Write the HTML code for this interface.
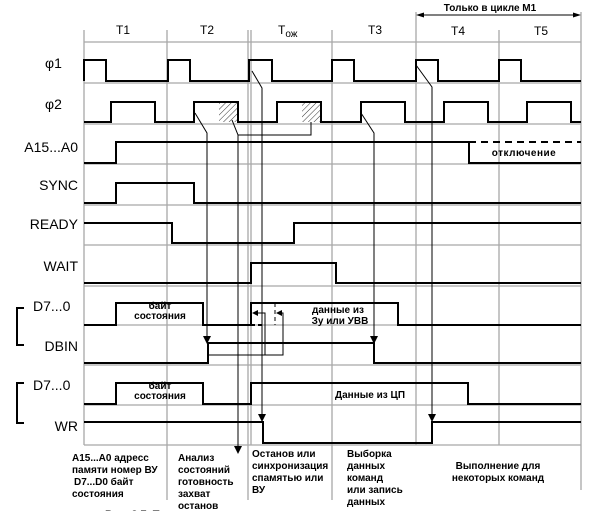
<!DOCTYPE html>
<html><head><meta charset="utf-8"><style>
html,body{margin:0;padding:0;background:#fff;}
svg{display:block;}
text{font-family:"Liberation Sans","DejaVu Sans",sans-serif;fill:#000;}
.g{stroke:#a8a8a8;stroke-width:1.3;fill:none;}
.s{stroke:#000;stroke-width:2;fill:none;}
.t{stroke:#000;stroke-width:1;fill:none;}
.lab{font-size:14px;}
.b{font-size:10px;font-weight:bold;}
.h{font-size:12px;}
</style></head><body>
<svg width="600" height="511" viewBox="0 0 600 511" xmlns="http://www.w3.org/2000/svg">
<defs>
<pattern id="hat" width="4" height="4" patternUnits="userSpaceOnUse" patternTransform="rotate(45)">
<line x1="0" y1="0" x2="0" y2="4" stroke="#000" stroke-width="0.8"/>
</pattern>
</defs>
<g class="g">
<line x1="84" y1="42" x2="581" y2="42"/>
<line x1="84" y1="83" x2="581" y2="83"/>
<line x1="84" y1="124" x2="581" y2="124"/>
<line x1="84" y1="164" x2="581" y2="164"/>
<line x1="84" y1="205" x2="581" y2="205"/>
<line x1="84" y1="245" x2="581" y2="245"/>
<line x1="84" y1="286" x2="581" y2="286"/>
<line x1="84" y1="325" x2="581" y2="325"/>
<line x1="84" y1="365" x2="581" y2="365"/>
<line x1="84" y1="405" x2="581" y2="405"/>
<line x1="84" y1="445" x2="581" y2="445"/>
<line x1="84" y1="30" x2="84" y2="445"/>
<line x1="167" y1="30" x2="167" y2="500"/>
<line x1="248" y1="30" x2="248" y2="500"/>
<line x1="251" y1="30" x2="251" y2="445"/>
<line x1="332" y1="30" x2="332" y2="500"/>
<line x1="416" y1="12" x2="416" y2="445"/>
<line x1="499" y1="30" x2="499" y2="445"/>
<line x1="581" y1="12" x2="581" y2="490"/>
</g>
<text x="490" y="11" class="b" text-anchor="middle">Только в цикле М1</text>
<line x1="420" y1="15" x2="577" y2="15" class="t"/>
<polygon points="416,15 424,12.5 424,17.5"/>
<polygon points="581,15 573,12.5 573,17.5"/>
<text x="123" y="34" class="h" text-anchor="middle">T1</text>
<text x="207" y="34" class="h" text-anchor="middle">T2</text>
<text x="278" y="34" class="h">T<tspan font-size="10" dy="3">ож</tspan></text>
<text x="375" y="34" class="h" text-anchor="middle">T3</text>
<text x="458" y="35" class="h" text-anchor="middle">T4</text>
<text x="541" y="35" class="h" text-anchor="middle">T5</text>
<text x="45" y="68" class="lab" font-size="16">φ1</text>
<text x="45" y="109" class="lab" font-size="16">φ2</text>
<text x="78" y="152" class="lab" text-anchor="end">A15...A0</text>
<text x="78" y="190" class="lab" text-anchor="end">SYNC</text>
<text x="78" y="229" class="lab" text-anchor="end">READY</text>
<text x="78" y="271" class="lab" text-anchor="end">WAIT</text>
<text x="33" y="311" class="lab">D7...0</text>
<text x="78" y="351" class="lab" text-anchor="end">DBIN</text>
<text x="33" y="390" class="lab">D7...0</text>
<text x="78" y="431" class="lab" text-anchor="end">WR</text>
<polyline points="24,308 17,308 17,345 24,345" class="s" stroke-width="1.5"/>
<polyline points="24,383 17,383 17,423 24,423" class="s" stroke-width="1.5"/>
<rect x="219" y="102" width="19" height="20" fill="url(#hat)"/>
<rect x="302" y="102" width="19" height="20" fill="url(#hat)"/>
<polyline class="s" points="84,81 84,60 106,60 106,81 168,81 168,60 190,60 190,81 249,81 249,60 272,60 272,81 332,81 332,60 354,60 354,81 416,81 416,60 438,60 438,81 499,81 499,60 521,60 521,81 581,81"/>
<polyline class="s" points="84,122 111,122 111,102 155,102 155,122 194,122 194,102 238,102 238,122 277,122 277,102 321,102 321,122 361,122 361,102 405,102 405,122 444,122 444,102 488,102 488,122 527,122 527,102 571,102 571,122 581,122"/>
<polyline class="s" points="84,163 116,163 116,142 469,142 469,163 581,163"/>
<line x1="469" y1="142" x2="581" y2="142" class="s" stroke-dasharray="7,5"/>
<text x="524" y="156" class="b" font-size="11" text-anchor="middle" letter-spacing="0.5">отключение</text>
<polyline class="s" points="84,203 116,203 116,183 194,183 194,203 581,203"/>
<polyline class="s" points="84,223 172,223 172,243 294,243 294,223 581,223"/>
<polyline class="s" points="84,283 251,283 251,263 336,263 336,283 581,283"/>
<polyline class="s" points="84,325 116,325 116,303 203,303 203,325 251,325"/>
<polyline class="s" points="251,325 251,303 398,303 398,325 581,325"/>
<line x1="251" y1="325" x2="262" y2="325" class="s" stroke-dasharray="4,3"/>
<line x1="275" y1="303" x2="275" y2="325" class="t" stroke-width="1.5" stroke-dasharray="4,3"/>
<text x="160" y="309" class="b" text-anchor="middle">байт</text>
<text x="160" y="319" class="b" text-anchor="middle">состояния</text>
<text x="338" y="313" class="b" text-anchor="middle">данные из</text>
<text x="340" y="324" class="b" text-anchor="middle">Зу или УВВ</text>
<polyline class="s" points="84,363 208,363 208,343 374,343 374,363 581,363"/>
<polyline class="s" points="84,404 116,404 116,383 203,383 203,404 251,404 251,383 468,383 468,404 581,404"/>
<text x="160" y="389" class="b" text-anchor="middle">байт</text>
<text x="160" y="399" class="b" text-anchor="middle">состояния</text>
<text x="370" y="398" class="b" text-anchor="middle">Данные из ЦП</text>
<polyline class="s" points="84,422 263,422 263,443 432,443 432,422 581,422"/>
<g class="t">
<polyline points="195,113 207,133 207,338"/>
<polyline points="232,120 238,135 238,448"/>
<polyline points="238,135 311,135 311,122"/>
<polyline points="252,71 262,88 262,416"/>
<polyline points="361,113 374,133 374,338"/>
<polyline points="416,65 432,87 432,416"/>
<polyline points="208,355 283,355 283,313 277,313"/>
<polyline points="265,355 265,313 254,313"/>
</g>
<polygon points="207,344 203,336 211,336"/>
<polygon points="374,344 370,336 378,336"/>
<polygon points="238,454 234,446 242,446"/>
<polygon points="262,422 258,414 266,414"/>
<polygon points="432,422 428,414 436,414"/>
<polygon points="252,313 258,310 258,316"/>
<polygon points="276,313 282,310 282,316"/>
<g class="b">
<text x="72" y="461">A15...A0 адресс</text>
<text x="72" y="473">памяти номер ВУ</text>
<text x="74" y="485"> D7...D0 байт</text>
<text x="72" y="497">состояния</text>
<text x="178" y="461">Анализ</text>
<text x="178" y="473">состояний</text>
<text x="178" y="485">готовность</text>
<text x="178" y="497">захват</text>
<text x="178" y="509">останов</text>
<text x="252" y="457">Останов или</text>
<text x="252" y="469">синхронизация</text>
<text x="252" y="481">спамятью или</text>
<text x="252" y="493">ВУ</text>
<text x="347" y="457">Выборка</text>
<text x="347" y="469">данных</text>
<text x="347" y="481">команд</text>
<text x="347" y="493">или запись</text>
<text x="347" y="505">данных</text>
<text x="498" y="469" text-anchor="middle">Выполнение для</text>
<text x="498" y="481" text-anchor="middle">некоторых команд</text>
<text x="105" y="518" font-size="11">Рис. 2.7. Т</text>
</g>
</svg>
</body></html>
